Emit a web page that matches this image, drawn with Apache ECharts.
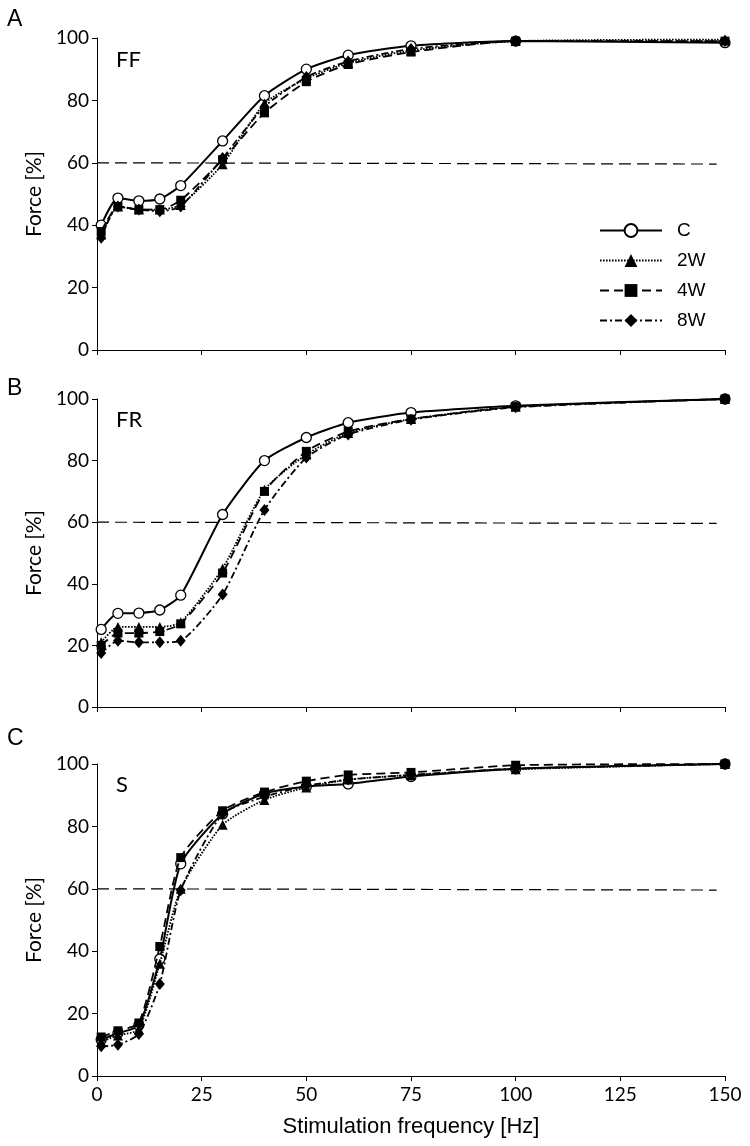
<!DOCTYPE html>
<html><head><meta charset="utf-8">
<script src="https://cdn.jsdelivr.net/npm/echarts@6/dist/echarts.min.js"></script>
<style>html,body{margin:0;padding:0;background:#fff}#c{width:750px;height:1146px}</style>
</head><body><div id="c"></div>
<script>
const freqs = [1,5,10,15,20,30,40,50,60,75,100,150];
const xTicks = [0,25,50,75,100,125,150];
const yTicks = [0,20,40,60,80,100];
const groups = ['C','2W','4W','8W'];
const panels = ['A','B','C'];
const fibreTypes = ['FF','FR','S'];

// Panel A (FF)
const ffC  = [40,48.7,47.8,48.4,52.7,67,81.5,90,94.5,97.5,99,98.5];
const ff2W = [37,46,45,45,46.5,59.5,79,87,92,96,99,99.5];
const ff4W = [38,46,45,45,48,61,76,86,91.5,95.5,99,99];
const ff8W = [36,46,45,44.5,46,61.5,78,87.5,92.5,96.5,99,99];
// Panel B (FR)
const frC  = [25.2,30.4,30.5,31.5,36.3,62.5,80,87.5,92.3,95.6,97.8,100];
const fr2W = [21,26,26,26,27.5,45,70.5,82,89,93.5,97.5,100];
const fr4W = [20,24,24,24.5,27,43.5,70,83,89.5,93.5,97.5,100];
const fr8W = [17.5,21.5,21,21,21.5,36.5,64,81,88.5,93.3,97.3,100];
// Panel C (S)
const sC  = [11.7,13.7,16.3,37.5,68,84,90.5,92.8,93.6,96,98.5,100];
const s2W = [11,13,15,36,60,80.5,88.5,92.5,95,96.5,98.3,100];
const s4W = [12.5,14.5,17,41.5,70,85,91,94.5,96.5,97.3,99.6,100];
const s8W = [9.5,10,13.5,29.5,59.5,84,89.5,93,95,96.5,98.5,100];
// 60 % reference line
const refLine = [[0,60],[148,59.6]];

const panelData = [[ffC,ff2W,ff4W,ff8W],[frC,fr2W,fr4W,fr8W],[sC,s2W,s4W,s8W]];

const tickFont = 'Lato';
const arialFont = '"Liberation Sans", Arial, sans-serif';

const styles = {
  'C':  {symbol:'circle',   symbolSize:10, itemStyle:{color:'#fff',borderColor:'#000',borderWidth:1.3}, lineStyle:{type:'solid',width:2}},
  '2W': {symbol:'triangle', symbolSize:10, itemStyle:{color:'#000'}, lineStyle:{type:[1.6,1.4],width:1.8}},
  '4W': {symbol:'rect',     symbolSize:9,  itemStyle:{color:'#000'}, lineStyle:{type:[9,5],width:1.8}},
  '8W': {symbol:'diamond',  symbolSize:[10,12], itemStyle:{color:'#000'}, lineStyle:{type:[7,3,2,3],width:1.8}}
};

const grids = [
  {left:97, top:38,  width:628, height:312},
  {left:97, top:399, width:628, height:308},
  {left:97, top:764, width:628, height:312}
];

const xAxes = [], yAxes = [], series = [], titles = [];
const panelLetterTop = [3, 372, 722];
const typeTop = [44, 404, 769];
grids.forEach((g, p) => {
  const last = p === 2;
  xAxes.push({
    type:'value', gridIndex:p, min:xTicks[0], max:xTicks[xTicks.length-1], interval:25,
    axisLine:{show:true, onZero:false, lineStyle:{color:'#000',width:1}},
    axisTick:{show:true, length:5, lineStyle:{color:'#000'}},
    splitLine:{show:false},
    axisLabel:{show:last, fontFamily:tickFont, fontSize:19, color:'#000', margin:9},
    name: last ? 'Stimulation frequency [Hz]' : '',
    nameLocation:'middle', nameGap:40,
    nameTextStyle:{fontFamily:arialFont, fontSize:22, color:'#000'}
  });
  yAxes.push({
    type:'value', gridIndex:p, min:yTicks[0], max:yTicks[yTicks.length-1], interval:20,
    axisLine:{show:true, lineStyle:{color:'#000',width:1}},
    axisTick:{show:true, length:5, lineStyle:{color:'#000'}},
    splitLine:{show:false},
    axisLabel:{fontFamily:tickFont, fontSize:19, color:'#000', margin:8},
    name:'Force [%]', nameLocation:'middle', nameGap:48,
    nameTextStyle:{fontFamily:tickFont, fontSize:21, color:'#000'}
  });
  series.push({
    name:'ref'+p, type:'line', xAxisIndex:p, yAxisIndex:p, data:refLine,
    symbol:'none', silent:true, z:1,
    lineStyle:{color:'#000', width:1.2, type:[12,6]}
  });
  groups.forEach((name, k) => {
    const st = styles[name];
    series.push({
      name, type:'line', xAxisIndex:p, yAxisIndex:p,
      data: freqs.map((f,i) => [f, panelData[p][k][i]]),
      smooth:0.2,
      symbol:st.symbol, symbolSize:st.symbolSize,
      itemStyle:st.itemStyle,
      lineStyle:Object.assign({color:'#000'}, st.lineStyle),
      z: 3 + k
    });
  });
  titles.push({text:panels[p], left:2, top:panelLetterTop[p],
    textStyle:{fontFamily:arialFont, fontSize:23, fontWeight:'normal', color:'#000'}});
  titles.push({text:fibreTypes[p], left:111, top:typeTop[p],
    textStyle:{fontFamily:tickFont, fontSize:22, fontWeight:'normal', color:'#000'}});
});

const chart = echarts.init(document.getElementById('c'), null, {renderer:'canvas'});
chart.setOption({
  backgroundColor:'#fff',
  animation:false,
  title:titles,
  legend:{
    data:groups, orient:'vertical', left:594, top:216,
    itemWidth:62, itemHeight:16, itemGap:11,
    textStyle:{fontFamily:arialFont, fontSize:19, color:'#000', padding:[0,0,0,10]},
    inactiveColor:'#000'
  },
  grid:grids, xAxis:xAxes, yAxis:yAxes, series
});
</script></body></html>
